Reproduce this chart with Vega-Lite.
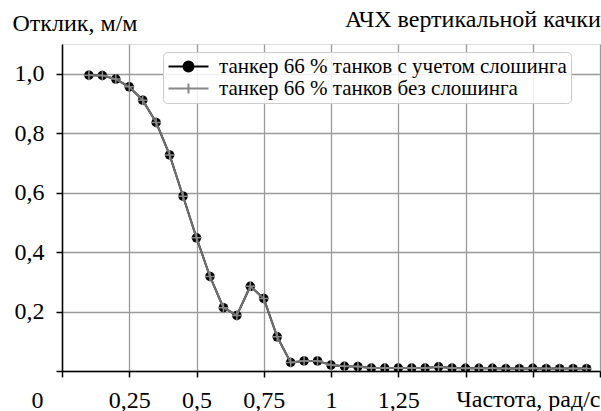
{
  "$schema": "https://vega.github.io/schema/vega-lite/v6.json",
  "width": 538,
  "height": 327,
  "autosize": "none",
  "padding": {"left": 62, "top": 44, "right": 1, "bottom": 40},
  "background": "white",
  "config": {"font": "Liberation Serif"},
  "title": {
    "text": "АЧХ вертикальной качки",
    "anchor": "end",
    "font": "Liberation Serif",
    "fontSize": 24,
    "fontWeight": "normal",
    "color": "black",
    "baseline": "alphabetic",
    "offset": 0,
    "dy": 40
  },
  "datasets": {
    "rao": [
      {"f": 0.1, "a": 0.995}, {"f": 0.15, "a": 0.994}, {"f": 0.2, "a": 0.982}, {"f": 0.25, "a": 0.956},
      {"f": 0.3, "a": 0.911}, {"f": 0.35, "a": 0.836}, {"f": 0.4, "a": 0.727}, {"f": 0.45, "a": 0.588},
      {"f": 0.5, "a": 0.448}, {"f": 0.55, "a": 0.318}, {"f": 0.6, "a": 0.213}, {"f": 0.65, "a": 0.187},
      {"f": 0.7, "a": 0.285}, {"f": 0.75, "a": 0.244}, {"f": 0.8, "a": 0.115}, {"f": 0.85, "a": 0.029},
      {"f": 0.9, "a": 0.034}, {"f": 0.95, "a": 0.034}, {"f": 1.0, "a": 0.020}, {"f": 1.05, "a": 0.016},
      {"f": 1.1, "a": 0.015}, {"f": 1.15, "a": 0.010}, {"f": 1.2, "a": 0.010}, {"f": 1.25, "a": 0.010},
      {"f": 1.3, "a": 0.010}, {"f": 1.35, "a": 0.010}, {"f": 1.4, "a": 0.014}, {"f": 1.45, "a": 0.010},
      {"f": 1.5, "a": 0.009}, {"f": 1.55, "a": 0.009}, {"f": 1.6, "a": 0.009}, {"f": 1.65, "a": 0.008},
      {"f": 1.7, "a": 0.008}, {"f": 1.75, "a": 0.009}, {"f": 1.8, "a": 0.008}, {"f": 1.85, "a": 0.008},
      {"f": 1.9, "a": 0.008}, {"f": 1.95, "a": 0.008}
    ],
    "series": [
      {"s": "танкер 66 % танков с учетом слошинга", "f": 1.0, "a": 0.5},
      {"s": "танкер 66 % танков без слошинга", "f": 1.0, "a": 0.5}
    ]
  },
  "data": {"name": "rao"},
  "encoding": {
    "x": {
      "field": "f",
      "type": "quantitative",
      "scale": {"domain": [0, 2], "nice": false, "zero": false},
      "axis": {
        "values": [0, 0.25, 0.5, 0.75, 1, 1.25, 1.5, 1.75, 2],
        "labelExpr": "datum.value == 0 ? '0' : (datum.value > 1.3 ? '' : replace(format(datum.value, '~g'), '.', ','))",
        "labelOffset": {"condition": {"test": "datum.value == 0", "value": -25}, "value": 0},
        "labelFlush": false,
        "labelOverlap": false,
        "labelBound": false,
        "labelFont": "Liberation Serif",
        "labelFontSize": 24,
        "labelColor": "black",
        "labelPadding": 11,
        "tickSize": 6,
        "tickWidth": 1.5,
        "tickColor": "black",
        "domainColor": "black",
        "domainWidth": 1.5,
        "grid": true,
        "gridColor": "#9a9a9a",
        "gridWidth": 1.3,
        "title": "Частота, рад/с",
        "titleFont": "Liberation Serif",
        "titleFontSize": 24,
        "titleFontWeight": "normal",
        "titleColor": "black",
        "titleAlign": "right",
        "titleBaseline": "alphabetic",
        "titleX": 538,
        "titleY": 35
      }
    },
    "y": {
      "field": "a",
      "type": "quantitative",
      "scale": {"domain": [0, 1.1], "nice": false},
      "axis": {
        "values": [0, 0.2, 0.4, 0.6, 0.8, 1.0],
        "labelExpr": "datum.value == 0 ? '' : replace(format(datum.value, '.1f'), '.', ',')",
        "labelFont": "Liberation Serif",
        "labelFontSize": 24,
        "labelColor": "black",
        "labelPadding": 12,
        "tickSize": 6,
        "tickWidth": 1.5,
        "tickColor": "black",
        "domainColor": "black",
        "domainWidth": 1.5,
        "grid": true,
        "gridColor": "#9a9a9a",
        "gridWidth": 1.3,
        "title": "Отклик, м/м",
        "titleFont": "Liberation Serif",
        "titleFontSize": 24,
        "titleFontWeight": "normal",
        "titleColor": "black",
        "titleAngle": 0,
        "titleAlign": "left",
        "titleBaseline": "alphabetic",
        "titleX": -50,
        "titleY": -14
      }
    }
  },
  "layer": [
    {"mark": {"type": "line", "color": "black", "strokeWidth": 2, "clip": true}},
    {"mark": {"type": "point", "shape": "circle", "filled": true, "color": "black", "size": 90, "opacity": 1, "clip": true}},
    {"mark": {"type": "line", "color": "#707070", "strokeWidth": 2, "clip": true}},
    {"mark": {"type": "point", "shape": "M-1,0H1M0,-1V1", "filled": false, "color": "#8a8a8a", "strokeWidth": 1.5, "size": 100, "opacity": 1, "clip": true}},
    {
      "data": {"name": "series"},
      "mark": {"type": "point", "filled": true, "opacity": 0},
      "encoding": {
        "shape": {
          "field": "s",
          "type": "nominal",
          "scale": {
            "domain": ["танкер 66 % танков с учетом слошинга", "танкер 66 % танков без слошинга"],
            "range": ["M-4,0H4M-1,0A1,1,0,1,0,1,0A1,1,0,1,0,-1,0", "M-4,0H4M0,-1V1"]
          },
          "legend": {
            "title": null,
            "orient": "none",
            "legendX": 101,
            "legendY": 8,
            "padding": 4,
            "rowPadding": 0,
            "fillColor": "rgba(255,255,255,0.85)",
            "strokeColor": "#cccccc",
            "cornerRadius": 4,
            "labelFont": "Liberation Serif",
            "labelFontSize": 21,
            "labelColor": "black",
            "labelLimit": 600,
            "labelExpr": "datum.label + '    '",
            "labelOffset": 20,
            "symbolSize": 100,
            "symbolOffset": 11,
            "symbolOpacity": 1,
            "symbolStrokeWidth": 2
          }
        },
        "fill": {
          "field": "s",
          "type": "nominal",
          "scale": {
            "domain": ["танкер 66 % танков с учетом слошинга", "танкер 66 % танков без слошинга"],
            "range": ["black", "#888888"]
          }
        },
        "stroke": {
          "field": "s",
          "type": "nominal",
          "scale": {
            "domain": ["танкер 66 % танков с учетом слошинга", "танкер 66 % танков без слошинга"],
            "range": ["black", "#888888"]
          }
        }
      }
    }
  ]
}
